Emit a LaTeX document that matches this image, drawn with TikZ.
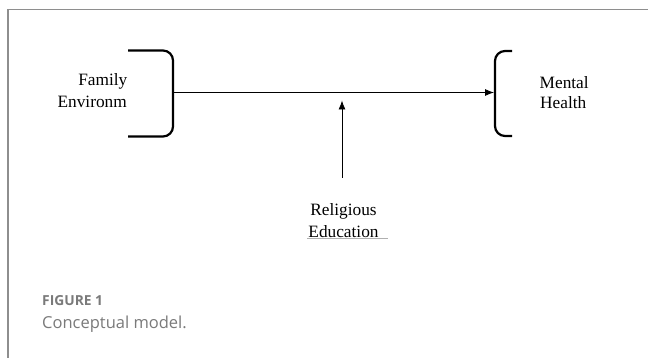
\documentclass[tikz,border=0pt]{standalone}
\usepackage{fontspec}
\setmainfont{Liberation Serif}
\newfontfamily\capfont{Open Sans}
\usetikzlibrary{arrows.meta}
\definecolor{framegray}{HTML}{8E8E8E}
\definecolor{capgray}{HTML}{7A7A7A}
\definecolor{linegray}{HTML}{B0B0B0}
\tikzset{
  lbl/.style={inner sep=0pt, font=\fontsize{17.3}{20}\selectfont},
  brace/.style={line width=2.2pt, rounded corners=10pt},
  conn/.style={line width=0.8pt, -{Latex[length=9pt,width=7pt]}},
}
\begin{document}
\begin{tikzpicture}[x=1pt,y=-1pt]
\useasboundingbox (0,0) rectangle (648,358);
\fill[white] (0,0) rectangle (648,358);
% frame
\draw[framegray, line width=1.5pt] (8,358) -- (8,9.5) -- (648,9.5);
% left bracket
\draw[brace] (128,50.5) -- (173,50.5) -- (173,136.5) -- (128,136.5);
\coordinate (lb) at (173,92.5);
% right bracket
\draw[brace] (512,51) -- (495,51) -- (495,136) -- (512,136);
\coordinate (rb) at (494,92.5);
% labels
\node[lbl, anchor=base east] (fam1) at (127.5,86) {Family};
\node[lbl, anchor=base east] (fam2) at (127,108) {Environm};
\node[lbl, anchor=base west] (men1) at (539.5,89) {Mental};
\node[lbl, anchor=base west] (men2) at (540,108.5) {Health};
\node[lbl, anchor=base] (rel1) at (343.5,216) {Religious};
\node[lbl, anchor=base] (rel2) at (343.5,238) {Education};
\draw[linegray, line width=0.8pt] (307,238.5) -- (388,238.5);
% connectors
\draw[conn] (lb) -- (rb);
\coordinate (rtop) at (342,92.5);
\coordinate (rbot) at (342,178);
\draw[conn] (rbot) -- ([yshift=-8pt]rtop);
% caption
\node[anchor=base west, inner sep=0pt, text=capgray, font=\capfont\fontsize{13.8}{15}\selectfont\bfseries] (figlbl) at (42,305) {FIGURE 1};
\node[anchor=base west, inner sep=0pt, text=capgray, font=\capfont\fontsize{16.5}{19}\selectfont] (cap) at (42,328) {Conceptual model.};
\end{tikzpicture}
\end{document}
